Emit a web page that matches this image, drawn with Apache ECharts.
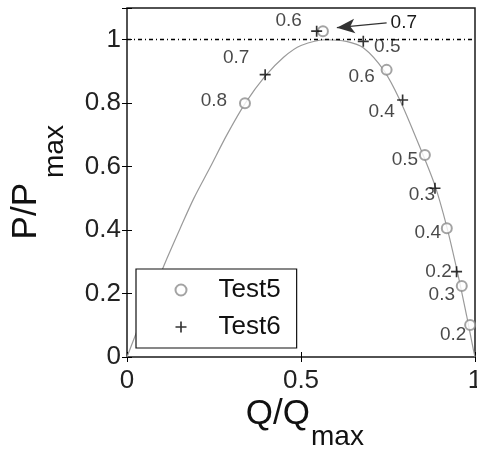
<!DOCTYPE html>
<html><head><meta charset="utf-8">
<script src="https://cdn.jsdelivr.net/npm/echarts@6/dist/echarts.min.js"></script>
<style>html,body{margin:0;padding:0;background:#fff}#c{width:477px;height:452px}</style>
</head><body><div id="c"></div>
<script>
// ---- data ----
const curveQ = [0, 0.05, 0.115, 0.153, 0.192, 0.239, 0.287, 0.34, 0.397, 0.45, 0.5, 0.575, 0.63, 0.679, 0.737, 0.784, 0.842, 0.885, 0.919, 0.951, 0.976, 0.994, 1];
const curveP = [0, 0.14, 0.311, 0.406, 0.5, 0.598, 0.70, 0.80, 0.885, 0.945, 0.982, 1.0, 0.995, 0.975, 0.905, 0.81, 0.66, 0.54, 0.41, 0.26, 0.13, 0.03, 0];

const test5Q = [0.339, 0.563, 0.746, 0.856, 0.919, 0.962, 0.986];
const test5P = [0.80, 1.027, 0.905, 0.637, 0.406, 0.224, 0.101];
const test5Labels = ['0.8', '0.7', '0.6', '0.5', '0.4', '0.3', '0.2'];

const test6Q = [0.397, 0.545, 0.679, 0.792, 0.885, 0.947];
const test6P = [0.89, 1.027, 0.995, 0.81, 0.532, 0.269];
const test6Labels = ['0.7', '0.6', '0.5', '0.4', '0.3', '0.2'];

const refLineP = 1;
const arrowFrom = [0.746, 1.053];
const arrowTo = [0.603, 1.038];
const arrowLabel = '0.7';

const xTicks = [0, 0.5, 1];
const yTicks = [0, 0.2, 0.4, 0.6, 0.8, 1];

// ---- label placement (style only, px offsets) ----
const test5LabelOffsets = [[-31, -2], null, [-25, 7], [-20, 5], [-19, 5], [-20, 9], [-17, 10]];
const test6LabelOffsets = [[-29, -17], [-28, -10], [24, 5], [-21, 12], [-13, 7], [-18, 0]];

const FONT = '"Liberation Sans", Arial, Helvetica, sans-serif';
const plusPath = 'path://M5.1,0H6.9V5.1H12V6.9H6.9V12H5.1V6.9H0V5.1H5.1Z';

function tickFmt(list) {
  return function (v) {
    for (const t of list) if (Math.abs(t - v) < 1e-6) return String(t);
    return '';
  };
}

function pts(q, p, labels, offsets) {
  return q.map((x, i) => {
    const o = offsets[i];
    return {
      value: [x, p[i]],
      label: o ? { show: true, formatter: labels[i], offset: o } : { show: false }
    };
  });
}

const chart = echarts.init(document.getElementById('c'), null, { renderer: 'canvas' });
const axisCommon = {
  type: 'value', min: 0, splitLine: { show: false },
  axisLine: { show: false },
  axisTick: { show: true, inside: true, length: 5, lineStyle: { color: '#000', width: 1 } }
};
chart.setOption({
  animation: false,
  backgroundColor: '#fff',
  grid: { left: 127, right: 2, top: 8, bottom: 95, outerBoundsMode: 'none', containLabel: false,
    show: true, borderColor: '#1a1a1a', borderWidth: 1.5, backgroundColor: 'transparent' },
  xAxis: [
    Object.assign({}, axisCommon, { max: 1, interval: 0.5, position: 'bottom',
      axisLabel: { show: true, margin: 11, fontSize: 26, color: '#222', fontFamily: FONT, formatter: tickFmt(xTicks) } }),
    Object.assign({}, axisCommon, { max: 1, interval: 0.5, position: 'top', axisLabel: { show: false } })
  ],
  yAxis: [
    Object.assign({}, axisCommon, { max: 1.1, interval: 0.2, position: 'left',
      axisLabel: { show: true, margin: 6, fontSize: 26, color: '#222', fontFamily: FONT, formatter: tickFmt(yTicks) } }),
    Object.assign({}, axisCommon, { max: 1.1, interval: 0.2, position: 'right', axisLabel: { show: false } })
  ],
  legend: {
    orient: 'vertical', left: 136, top: 269,
    padding: [8, 16, 8, 38.5], itemGap: 11, itemWidth: 11, itemHeight: 11,
    backgroundColor: '#fff', borderColor: '#111', borderWidth: 1.2,
    textStyle: { fontSize: 26, color: '#111', fontFamily: FONT, padding: [0, 0, 0, 27] },
    data: [
      { name: 'Test5', icon: 'emptyCircle' },
      { name: 'Test6', icon: plusPath }
    ]
  },
  series: [
    {
      name: 'curve', type: 'line', data: curveQ.map((q, i) => [q, curveP[i]]),
      smooth: 0.3, showSymbol: false, symbol: 'none',
      lineStyle: { color: '#9a9a9a', width: 1.2 }, z: 1, silent: true
    },
    {
      name: 'Test5', type: 'scatter', symbol: 'emptyCircle', symbolSize: 10,
      itemStyle: { color: '#8c8c8c', borderColor: '#8c8c8c', borderWidth: 1.1 },
      label: { position: 'inside', fontSize: 19, color: '#1a1a1a', fontFamily: FONT },
      data: pts(test5Q, test5P, test5Labels, test5LabelOffsets),
      markLine: {
        silent: true, symbol: ['arrow', 'none'], symbolSize: [11, 18],
        lineStyle: { color: '#333', width: 1.2, type: 'solid' },
        label: { show: true, position: 'end', distance: 4, formatter: arrowLabel, fontSize: 19, color: '#1a1a1a', fontFamily: FONT },
        data: [[{ coord: arrowTo }, { coord: arrowFrom }]]
      },
      z: 3
    },
    {
      name: 'Test6', type: 'scatter', symbol: plusPath, symbolSize: 11,
      itemStyle: { color: '#000' },
      label: { position: 'inside', fontSize: 19, color: '#1a1a1a', fontFamily: FONT },
      data: pts(test6Q, test6P, test6Labels, test6LabelOffsets),
      markLine: {
        silent: true, symbol: 'none',
        lineStyle: { color: '#000', width: 1.3, type: [4, 3, 1, 3] },
        label: { show: false },
        data: [{ yAxis: refLineP }]
      },
      z: 3
    }
  ],
  graphic: [
    { type: 'text', x: 310, y: 414, style: { text: 'Q/Q', font: '35px ' + FONT, fill: '#111', align: 'right', verticalAlign: 'middle' } },
    { type: 'text', x: 311, y: 437, style: { text: 'max', font: '28px ' + FONT, fill: '#111', align: 'left', verticalAlign: 'middle' } },
    { type: 'text', x: 26, y: 183, rotation: Math.PI / 2, style: { text: 'P/P', font: '35px ' + FONT, fill: '#111', align: 'right', verticalAlign: 'middle' } },
    { type: 'text', x: 55, y: 178, rotation: Math.PI / 2, style: { text: 'max', font: '28px ' + FONT, fill: '#111', align: 'left', verticalAlign: 'middle' } }
  ]
});
</script>
</body></html>
